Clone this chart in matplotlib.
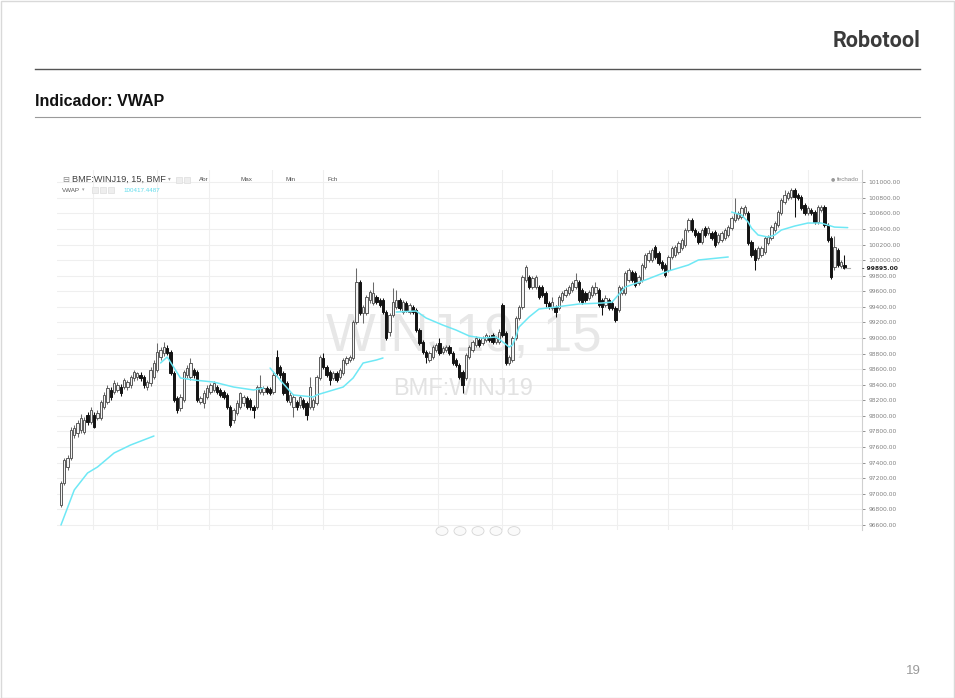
import numpy as np
import matplotlib
matplotlib.use("Agg")
import matplotlib.pyplot as plt
from matplotlib.lines import Line2D
from matplotlib.patches import Rectangle, Circle

# ---------------- data ----------------
opens = [
    96855, 97138, 97343, 97459, 97754, 97780, 97818, 97792, 98011, 97921, 98011, 97972,
    97972, 98113, 98178, 98332, 98306, 98332, 98370, 98370, 98370,
    98396, 98486, 98499, 98524, 98499, 98370, 98422, 98499, 98588, 98755,
    98807, 98871, 98819, 98550, 98229, 98100, 98203, 98524, 98499, 98588,
    98563, 98178, 98165, 98242, 98306, 98332, 98370, 98332, 98306, 98268,
    98113, 97946, 98036, 98113, 98165, 98229, 98203, 98113, 98113, 98306,
    98306, 98357, 98345, 98306, 98755, 98627, 98550, 98422, 98178, 98113,
    98178, 98139, 98203, 98165, 98113, 98113, 98165, 98486, 98742, 98627,
    98563, 98486, 98550, 98499, 98550, 98678, 98717, 98742, 99205, 99718,
    99320, 99320, 99487, 99449, 99526, 99487, 99487, 99333, 99076, 99295,
    99397, 99487, 99333, 99449, 99333, 99397, 99359, 99102, 98948, 98819,
    98717, 98755, 98845, 98935, 98819, 98845, 98884, 98807, 98717, 98653,
    98563, 98486, 98755, 98845, 98909, 98974, 98935, 98974, 99012, 99038,
    98948, 98948, 99423, 99063, 98678, 98717, 98999, 99256, 99397, 99744,
    99783, 99654, 99654, 99654, 99654, 99577, 99449, 99384, 99397, 99384,
    99487, 99551, 99577, 99616, 99654, 99718, 99616, 99577, 99513, 99551,
    99577, 99616, 99487, 99423, 99487, 99449, 99384, 99359, 99577, 99577,
    99744, 99847, 99834, 99705, 99744, 99911, 100001, 100001, 100168, 100091,
    99975, 99937, 99872, 100040, 100065, 100104, 100155, 100193, 100386, 100514,
    100386, 100347, 100232, 100412, 100347, 100347, 100360, 100232, 100258, 100283,
    100322, 100412, 100514, 100540, 100553, 100604, 100604, 100232, 100129, 100027,
    100065, 100104, 100219, 100283, 100386, 100450, 100604, 100745, 100797, 100809,
    100899, 100835, 100809, 100707, 100604, 100643, 100617, 100489, 100643, 100681,
    100450, 100283, 99911, 100129, 99924, 99937,
]
highs = [
    97163, 97459, 97497, 97856, 97882, 97946, 98023, 97985, 98049, 98113, 98049, 98075,
    98203, 98306, 98396, 98370, 98460, 98434, 98409, 98486, 98460,
    98524, 98588, 98563, 98563, 98524, 98460, 98627, 98717, 98935, 98884,
    98948, 98909, 98845, 98576, 98255, 98280, 98588, 98653, 98742, 98614,
    98588, 98255, 98332, 98396, 98422, 98447, 98396, 98357, 98332, 98293,
    98139, 98100, 98203, 98306, 98268, 98255, 98229, 98139, 98396, 98524,
    98383, 98383, 98370, 98563, 98845, 98653, 98576, 98447, 98306, 98280,
    98203, 98268, 98229, 98190, 98499, 98229, 98524, 98781, 98807, 98653,
    98588, 98576, 98576, 98614, 98742, 98768, 98781, 99231, 99898, 99744,
    99423, 99551, 99616, 99718, 99551, 99513, 99513, 99359, 99320, 99641,
    99616, 99513, 99487, 99474, 99449, 99423, 99384, 99128, 98974, 98845,
    98832, 98909, 98935, 98999, 98896, 98909, 98909, 98832, 98742, 98678,
    98588, 98807, 98909, 98974, 99025, 98999, 99025, 99063, 99038, 99063,
    99025, 99115, 99449, 99089, 98781, 99025, 99282, 99423, 99808, 99937,
    99808, 99795, 99808, 99680, 99680, 99603, 99474, 99526, 99423, 99551,
    99603, 99641, 99680, 99731, 99834, 99744, 99641, 99603, 99616, 99680,
    99718, 99641, 99513, 99551, 99513, 99474, 99410, 99680, 99667, 99860,
    99898, 99872, 99860, 99808, 99962, 100091, 100129, 100155, 100193, 100116,
    100001, 99962, 100065, 100181, 100193, 100245, 100283, 100412, 100540, 100540,
    100412, 100373, 100412, 100437, 100437, 100373, 100386, 100347, 100373, 100412,
    100450, 100566, 100797, 100630, 100694, 100707, 100630, 100258, 100155, 100181,
    100181, 100309, 100322, 100450, 100502, 100643, 100797, 100899, 100886, 100925,
    100925, 100861, 100835, 100733, 100694, 100668, 100643, 100707, 100707, 100707,
    100476, 100309, 100309, 100155, 100001, 100065,
]
lows = [
    96829, 97112, 97304, 97433, 97716, 97728, 97780, 97767, 97882, 97895, 97844, 97946,
    97946, 98088, 98152, 98203, 98280, 98306, 98255, 98345, 98332,
    98357, 98447, 98460, 98447, 98357, 98332, 98383, 98473, 98563, 98717,
    98768, 98781, 98524, 98178, 98036, 98062, 98178, 98486, 98460, 98486,
    98178, 98152, 98100, 98216, 98280, 98306, 98280, 98242, 98216, 98088,
    97856, 97908, 98011, 98088, 98126, 98088, 98075, 97972, 98088, 98280,
    98268, 98280, 98268, 98280, 98524, 98486, 98268, 98178, 98139, 97985,
    98075, 98100, 98088, 97946, 98088, 98075, 98139, 98460, 98601, 98499,
    98396, 98460, 98434, 98473, 98524, 98653, 98691, 98717, 99179, 99295,
    99192, 99295, 99449, 99423, 99436, 99397, 99307, 98974, 99025, 99269,
    99372, 99359, 99307, 99333, 99307, 99307, 99076, 98909, 98794, 98678,
    98691, 98730, 98819, 98781, 98794, 98819, 98781, 98653, 98627, 98473,
    98293, 98460, 98730, 98819, 98884, 98884, 98909, 98948, 98948, 98922,
    98922, 98922, 99012, 98653, 98653, 98691, 98974, 99231, 99372, 99718,
    99628, 99628, 99628, 99500, 99526, 99397, 99372, 99359, 99269, 99359,
    99461, 99526, 99551, 99590, 99628, 99461, 99436, 99461, 99487, 99526,
    99551, 99397, 99295, 99397, 99359, 99359, 99205, 99333, 99551, 99551,
    99718, 99718, 99654, 99680, 99718, 99885, 99975, 99975, 100014, 99937,
    99872, 99783, 99847, 100014, 100040, 100078, 100129, 100168, 100360, 100360,
    100296, 100206, 100206, 100296, 100322, 100258, 100168, 100206, 100232, 100258,
    100296, 100386, 100489, 100514, 100527, 100579, 100193, 100040, 99872, 100001,
    100040, 100078, 100193, 100258, 100360, 100424, 100579, 100720, 100771, 100784,
    100553, 100771, 100643, 100579, 100579, 100579, 100463, 100463, 100617, 100424,
    100232, 99757, 99872, 99911, 99898, 99885,
]
closes = [
    97138, 97433, 97459, 97818, 97844, 97908, 97972, 97946, 97921, 98075, 97856, 98036,
    98178, 98268, 98357, 98242, 98422, 98396, 98293, 98460, 98434,
    98499, 98563, 98550, 98486, 98396, 98434, 98588, 98678, 98819, 98845,
    98884, 98807, 98550, 98203, 98075, 98242, 98563, 98614, 98678, 98524,
    98203, 98229, 98293, 98357, 98396, 98422, 98306, 98268, 98242, 98113,
    97882, 98075, 98165, 98293, 98242, 98113, 98113, 98075, 98370, 98370,
    98357, 98306, 98293, 98524, 98550, 98524, 98293, 98203, 98268, 98242,
    98113, 98242, 98113, 98011, 98370, 98203, 98499, 98755, 98627, 98524,
    98460, 98550, 98460, 98588, 98717, 98742, 98755, 99205, 99718, 99320,
    99397, 99526, 99590, 99577, 99461, 99423, 99333, 98999, 99295, 99461,
    99487, 99384, 99461, 99359, 99423, 99333, 99102, 98935, 98819, 98755,
    98807, 98884, 98909, 98807, 98871, 98884, 98807, 98678, 98653, 98499,
    98396, 98781, 98884, 98948, 98999, 98909, 98999, 99038, 98974, 98948,
    98999, 99076, 99038, 98678, 98755, 98999, 99256, 99397, 99783, 99911,
    99654, 99770, 99783, 99526, 99551, 99449, 99397, 99461, 99333, 99526,
    99577, 99616, 99654, 99705, 99744, 99487, 99461, 99487, 99590, 99654,
    99654, 99423, 99397, 99513, 99384, 99384, 99231, 99654, 99641, 99834,
    99872, 99744, 99680, 99783, 99937, 100065, 100091, 100129, 100040, 99962,
    99898, 99808, 100040, 100155, 100168, 100219, 100258, 100386, 100514, 100386,
    100322, 100232, 100386, 100322, 100412, 100283, 100193, 100322, 100347, 100386,
    100424, 100540, 100604, 100604, 100668, 100681, 100219, 100065, 100001, 100155,
    100155, 100283, 100296, 100424, 100476, 100617, 100771, 100835, 100861, 100899,
    100809, 100797, 100668, 100604, 100668, 100604, 100489, 100681, 100681, 100450,
    100258, 99783, 100168, 99937, 99975, 99898,
]

# VWAP (anchored segments): candle index -> value
vwap_seg_idx = [
    [0, 4, 8, 11, 16, 21, 28],
    [30, 32, 36, 40, 46, 52, 58, 61],
    [63, 66, 70, 76, 77, 85, 88, 91, 95, 97],
    [101, 107, 110, 115, 119, 123, 127, 131, 132, 135, 136, 137, 138, 141, 144,
     149, 156, 163, 166, 170, 176, 183, 189, 192, 201],
    [202, 205, 207, 208, 210, 213, 215, 217, 221, 225, 229, 233, 237],
]
vwap_seg_val = [
    [96598, 97048, 97266, 97343, 97523, 97626, 97741],
    [98679, 98756, 98486, 98460, 98434, 98370, 98332, 98357],
    [98614, 98460, 98268, 98242, 98268, 98370, 98486, 98678, 98717, 98743],
    [99333, 99346, 99256, 99166, 99102, 99025, 98999, 99012, 98986, 98884,
     98909, 99012, 99141, 99269, 99372, 99397, 99436, 99449, 99461, 99654,
     99744, 99860, 99937, 100001, 100040],
    [100617, 100579, 100489, 100412, 100322, 100296, 100322, 100386, 100437,
     100476, 100476, 100424, 100417],
]

time_grid_idx = [9.5, 29, 44.5, 63.5, 79, 113.5, 133, 148, 167.5, 183, 202, 225]
price_ticks = [96600, 96800, 97000, 97200, 97400, 97600, 97800, 98000, 98200,
               98400, 98600, 98800, 99000, 99200, 99400, 99600, 99800, 100000,
               100200, 100400, 100600, 100800, 101000]
last_price = 99895
vwap_last = "100417.4487"
ohlc_labels = ["Abr", "Max", "Min", "Fch"]

# ---------------- figure ----------------
W, H = 955, 698
fig = plt.figure(figsize=(W / 100, H / 100), dpi=100)
fig.patch.set_facecolor("white")

def fx(x):
    return x / W

def fy(y):
    return 1 - y / H

# slide frame
fig.add_artist(Rectangle((0.5 / W, 0.5 / H), 1 - 1.5 / W, 1 - 1.5 / H, transform=fig.transFigure,
                         fill=False, edgecolor="#d9d9d9", lw=1))

# header
fig.text(fx(920), fy(41), "Robotool", ha="right", va="center", fontsize=15.5,
         fontweight="bold", family="Roboto", color="#3b3b3b")
fig.add_artist(Line2D([fx(35), fx(920)], [fy(68.5), fy(68.5)], color="#555555", lw=1.0))
fig.text(fx(35), fy(102), "Indicador: VWAP", ha="left", va="center", fontsize=11.5,
         fontweight="bold", family="Liberation Sans", color="#111111")
fig.add_artist(Line2D([fx(35), fx(920)], [fy(116.5), fy(116.5)], color="#9a9a9a", lw=0.8))
fig.text(fx(921), fy(671), "19", ha="right", va="center", fontsize=9.5,
         family="Liberation Sans", color="#9a9a9a")

# chart axes
ax = fig.add_axes([fx(57), fy(530), fx(862) - fx(57), fy(170) - fy(530)])
ax.set_facecolor("white")
ax.set_xlim(-1.2, 241.3)
ax.set_ylim(96534, 101157)

for p in price_ticks:
    ax.axhline(p, color="#efefef", lw=0.8, zorder=0)
for g in time_grid_idx:
    ax.axvline(g, color="#efefef", lw=0.8, zorder=0)

# watermark
ax.text(0.505, 0.535, "WINJ19, 15", transform=ax.transAxes, ha="center", va="center",
        fontsize=38, color="#e7e7e7", family="Liberation Sans", zorder=1)
ax.text(0.505, 0.392, "BMF:WINJ19", transform=ax.transAxes, ha="center", va="center",
        fontsize=17, color="#e2e2e2", family="Liberation Sans", zorder=1)

o = np.array(opens, float)
h = np.array(highs, float)
l = np.array(lows, float)
c = np.array(closes, float)
idx = np.arange(len(o))
up = c >= o

wick_cols = np.where(up, "#6a6a6a", "#111111")
ax.vlines(idx, l, h, colors=wick_cols, lw=0.75, zorder=3)
body_bottom = np.minimum(o, c)
body_h = np.maximum(np.abs(c - o), 8)
ax.bar(idx[up], body_h[up], bottom=body_bottom[up], width=0.7, color="#f4f4f4",
       edgecolor="#5a5a5a", linewidth=0.7, zorder=4)
ax.bar(idx[~up], body_h[~up], bottom=body_bottom[~up], width=0.7, color="#141414",
       edgecolor="#141414", linewidth=0.7, zorder=4)

for xs, vs in zip(vwap_seg_idx, vwap_seg_val):
    ax.plot(xs, vs, color="#6ee8f5", lw=1.1, zorder=5, solid_capstyle="round")

# small current price dash
ax.plot([236.3, 237.6], [last_price, last_price], color="#aaaaaa", lw=0.8, zorder=5)

# right price axis
for s in ["top", "left", "bottom"]:
    ax.spines[s].set_visible(False)
ax.spines["right"].set_color("#d0d0d0")
ax.spines["right"].set_linewidth(0.8)
ax.yaxis.tick_right()
ax.set_yticks(price_ticks)
ax.set_yticklabels([f"{p:.2f}" for p in price_ticks])
ax.tick_params(axis="y", labelsize=4.3, colors="#808080", length=2.5, width=0.6, pad=2)
ax.set_xticks([])
ax.text(1.0, last_price, "- " + f"{last_price:.2f}", transform=ax.get_yaxis_transform(),
        ha="left", va="center", fontsize=4.3, color="#222222", fontweight="bold",
        family="DejaVu Sans")

# chart legend texts
fig.text(fx(62), fy(179), "\u229f", ha="left", va="center", fontsize=6, color="#888888",
         family="DejaVu Sans")
fig.text(fx(72), fy(179.5), "BMF:WINJ19, 15, BMF", ha="left", va="center", fontsize=6.6,
         color="#404040", family="Liberation Sans")
fig.text(fx(168), fy(179), "\u25be", ha="left", va="center", fontsize=4, color="#999999",
         family="DejaVu Sans")
for bx in [176, 184]:
    fig.add_artist(Rectangle((fx(bx), fy(183)), 6 / W, 6 / H, transform=fig.transFigure,
                             facecolor="#eeeeee", edgecolor="#dddddd", lw=0.5))
for lbl, xx in zip(ohlc_labels, [199, 240, 285, 327]):
    fig.text(fx(xx), fy(179.5), lbl, ha="left", va="center", fontsize=4.5, color="#555555",
             family="Liberation Sans")
fig.text(fx(62), fy(190), "VWAP", ha="left", va="center", fontsize=4.5, color="#555555",
         family="Liberation Sans")
fig.text(fx(82), fy(190), "\u25be", ha="left", va="center", fontsize=3.5, color="#999999",
         family="DejaVu Sans")
for bx in [92, 100, 108]:
    fig.add_artist(Rectangle((fx(bx), fy(193)), 6 / W, 6 / H, transform=fig.transFigure,
                             facecolor="#eeeeee", edgecolor="#dddddd", lw=0.5))
fig.text(fx(123), fy(190), vwap_last, ha="left", va="center", fontsize=4.5, color="#5fdcec",
         family="Liberation Sans")
fig.text(fx(831), fy(179), "\u25cf", ha="left", va="center", fontsize=3.5, color="#999999",
         family="DejaVu Sans")
fig.text(fx(837), fy(179.5), "fechado", ha="left", va="center", fontsize=4.5, color="#888888",
         family="Liberation Sans")

# navigation buttons at bottom
for bx in [442, 460, 478, 496, 514]:
    fig.add_artist(Circle((fx(bx), fy(531)), 6 / W, transform=fig.transFigure,
                          facecolor="#fafafa", edgecolor="#d5d5d5", lw=0.6))

fig.savefig("out.png", dpi=100, facecolor="white")
